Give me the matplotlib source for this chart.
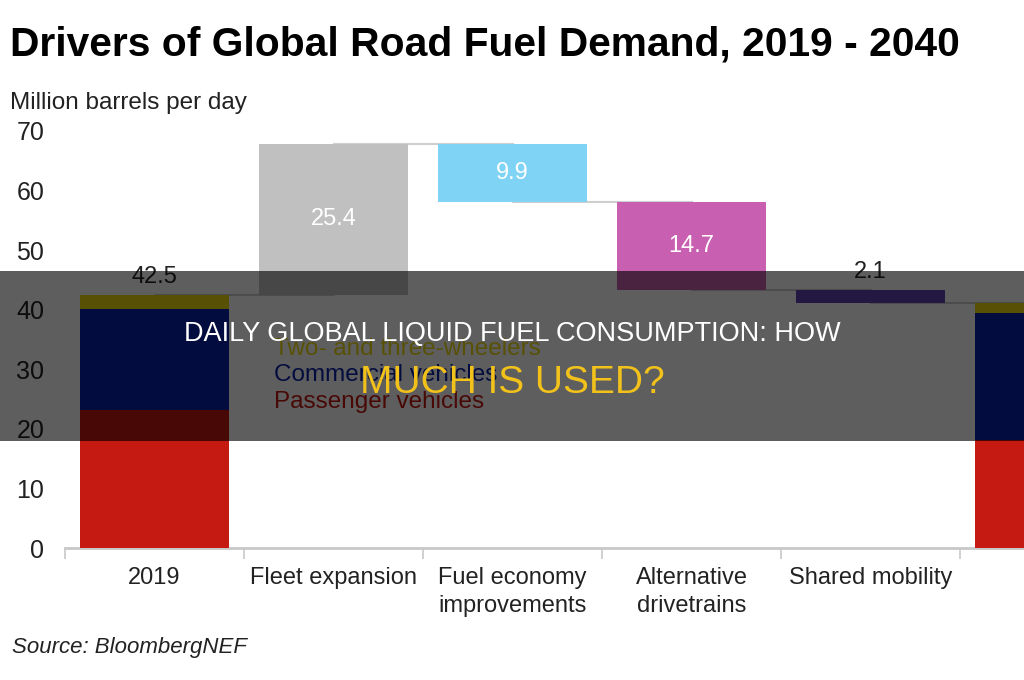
import numpy as np
import matplotlib
matplotlib.use("Agg")
import matplotlib.pyplot as plt
from matplotlib.patches import Rectangle

plt.rcParams['font.family'] = ['Liberation Sans', 'DejaVu Sans']

# data
categories = ["2019", "Fleet expansion", "Fuel economy\nimprovements",
              "Alternative\ndrivetrains", "Shared mobility", "2040"]
passenger = [23.2, 18.1]      # 2019, 2040
commercial = [16.9, 21.3]
two_three = [2.4, 1.8]
changes = [25.4, -9.9, -14.7, -2.1]
change_labels = ["25.4", "9.9", "14.7", "2.1"]
total_labels = ["42.5", ""]

# colours
c_pass = '#c41a12'
c_comm = '#0a22a8'
c_two = '#eedb10'
c_steps = ['#c0c0c0', '#7fd3f5', '#c95fb0', '#5e42b0']

fig = plt.figure(figsize=(10.24, 6.8), dpi=100)
fig.patch.set_facecolor('white')
ax = fig.add_axes([65/1024, 132/680, 1074/1024, 417/680])

x = np.arange(len(categories))
w = 0.83

# stacked totals at both ends
for i, xi in zip([0, 1], [x[0], x[-1]]):
    ax.bar(xi, passenger[i], w, color=c_pass, zorder=3)
    ax.bar(xi, commercial[i], w, bottom=passenger[i], color=c_comm, zorder=3)
    ax.bar(xi, two_three[i], w, bottom=passenger[i] + commercial[i], color=c_two, zorder=3)

start = passenger[0] + commercial[0] + two_three[0]
levels = [start]
for ch in changes:
    levels.append(levels[-1] + ch)

# waterfall steps
for k, ch in enumerate(changes):
    xi = x[k + 1]
    lo = min(levels[k], levels[k + 1])
    ax.bar(xi, abs(ch), w, bottom=lo, color=c_steps[k], zorder=3)
    if k < 3:
        ax.text(xi, lo + abs(ch) / 2, change_labels[k], color='white',
                ha='center', va='center', fontsize=17, zorder=4)
    else:
        ax.text(xi, max(levels[k], levels[k + 1]) + 1.2, change_labels[k],
                color='#222222', ha='center', va='bottom', fontsize=17, zorder=4)

ax.text(x[0], start + 1.2, total_labels[0], color='#222222', ha='center',
        va='bottom', fontsize=17, zorder=4)

# connector lines
for k in range(len(levels)):
    ax.plot([x[k], x[k + 1]], [levels[k], levels[k]], color='#cfcfcf', lw=1.5, zorder=2)

# legend text
ax.text(0.67, 33.4, "Two- and three-wheelers", color=c_two, fontsize=17.5, va='center')
ax.text(0.67, 29.0, "Commercial vehicles", color=c_comm, fontsize=17.5, va='center')
ax.text(0.67, 24.5, "Passenger vehicles", color=c_pass, fontsize=17.5, va='center')

ax.set_xlim(-0.5, 5.5)
ax.set_ylim(0, 70)
ax.set_yticks(np.arange(0, 71, 10))
ax.tick_params(axis='y', length=0, pad=15, labelsize=18, labelcolor='#222222')
ax.set_xticks(x)
ax.set_xticklabels(categories, fontsize=17, color='#222222', linespacing=1.35)
ax.tick_params(axis='x', length=0, pad=14)
ax.set_xticks(np.arange(-0.5, 6, 1), minor=True)
ax.tick_params(axis='x', which='minor', length=8, width=1.2, color='#c8c8c8')
for s in ['top', 'right', 'left']:
    ax.spines[s].set_visible(False)
ax.spines['bottom'].set_color('#c8c8c8')
ax.spines['bottom'].set_linewidth(2)
ax.patch.set_alpha(0)

fig.text(10/1024, 1 - 45/680, "Drivers of Global Road Fuel Demand, 2019 - 2040",
         fontsize=29.3, fontweight='bold', va='center', ha='left', color='black')
fig.text(10/1024, 1 - 103/680, "Million barrels per day", fontsize=17.5,
         va='center', ha='left', color='#222222')
fig.text(12/1024, 1 - 647/680, "Source: BloombergNEF", fontsize=16,
         style='italic', va='center', ha='left', color='#222222')

# overlay banner
fig.patches.append(Rectangle((0, 1 - 441/680), 1, 170/680, transform=fig.transFigure,
                             facecolor='black', alpha=0.63, edgecolor='none', zorder=5))
fig.text(0.5, 1 - 334/680, "DAILY GLOBAL LIQUID FUEL CONSUMPTION: HOW",
         fontsize=19.5, color='white', ha='center', va='center', zorder=6)
fig.text(0.5, 1 - 383/680, "MUCH IS USED?", fontsize=28, color='#f2c21b',
         ha='center', va='center', zorder=6)

fig.savefig("out.png", dpi=100)
